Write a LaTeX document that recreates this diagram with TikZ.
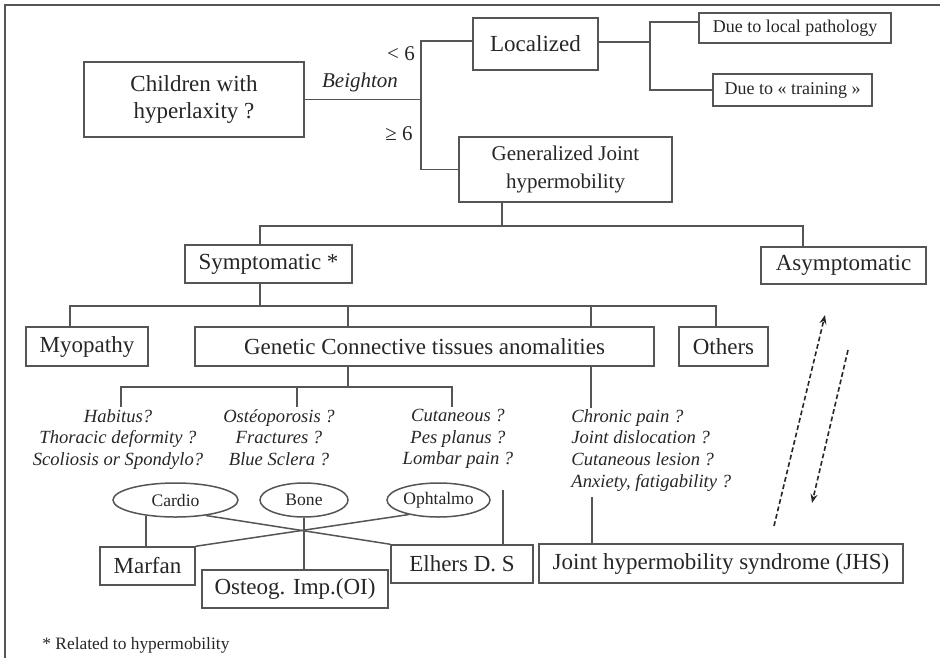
\documentclass[tikz,border=0pt]{standalone}
\usepackage{fontspec}
\setmainfont{Liberation Serif}
\usepackage{xcolor}
\usetikzlibrary{shapes.geometric,arrows.meta}
\definecolor{linec}{HTML}{555555}
\definecolor{textc}{HTML}{262626}

\begin{document}
\begin{tikzpicture}[x=0.5pt, y=-0.5pt,
    box/.style={draw=linec, line width=0.75pt, rectangle, inner sep=0pt, align=center, text=textc, font=\fontsize{11.5}{13.5}\selectfont},
    smallbox/.style={box, font=\fontsize{9}{11}\selectfont},
    oval/.style={draw=linec, line width=0.75pt, ellipse, inner sep=0pt, text=textc, font=\fontsize{8.8}{10}\selectfont},
    note/.style={inner sep=1pt, align=center, text=textc, font=\fontsize{9.3}{10.8}\selectfont\itshape},
    label/.style={inner sep=1pt, text=textc, font=\fontsize{10.5}{12}\selectfont},
    link/.style={draw=linec, line width=0.75pt},
    dasharrow/.style={draw=textc, line width=0.8pt, dash pattern=on 2.4pt off 1.4pt, -{Stealth[length=4.5pt,width=3.5pt]}}]
    \useasboundingbox (0,0) rectangle (940,658);
    \draw[draw=linec, line width=0.8pt] (940,5) -- (5,5) -- (5,658);

    \node[box, minimum width=110pt, minimum height=37.5pt] (child) at (194,99.5) {Children with\\hyperlaxity ?};
    \node[box, minimum width=62.5pt, minimum height=26pt] (loc) at (535.5,44) {Localized};
    \node[box, minimum width=106.5pt, minimum height=32.5pt, font=\fontsize{10.5}{14}\selectfont] (gen) at (565.5,169.5) {Generalized Joint\\hypermobility};
    \node[smallbox, minimum width=96pt, minimum height=15pt] (due1) at (795,28) {Due to local pathology};
    \node[smallbox, minimum width=79.5pt, minimum height=16pt] (due2) at (792.5,90) {Due to « training »};

    \node[label] (lt) at (401,54) {< 6};
    \node[label, font=\fontsize{10.5}{12}\selectfont\itshape] (beigh) at (360,82) {Beighton};
    \node[label] (ge) at (399,134) {≥ 6};

    \node[box, minimum width=83.5pt, minimum height=19pt] (sym) at (268.5,264) {Symptomatic *};
    \node[box, minimum width=82.5pt, minimum height=18.5pt] (asym) at (843.5,265.5) {Asymptomatic};
    \node[box, minimum width=61pt, minimum height=19.5pt] (myo) at (87,346.5) {Myopathy};
    \node[box, minimum width=229.5pt, minimum height=19.5pt] (gct) at (424.5,346.5) {Genetic Connective tissues anomalities};
    \node[box, minimum width=44.5pt, minimum height=19.5pt] (oth) at (723.5,346.5) {Others};

    \node[note, anchor=north] (hab) at (118,407) {Habitus?\\Thoracic deformity ?\\Scoliosis or Spondylo?};
    \node[note, anchor=north] (ost) at (279,407) {Ostéoporosis ?\\Fractures ?\\Blue Sclera ?};
    \node[note, anchor=north] (cut) at (458,407) {Cutaneous ?\\Pes planus ?\\Lombar pain ?};
    \node[note, anchor=north west, align=left] (chr) at (569,407) {Chronic pain ?\\Joint dislocation ?\\Cutaneous lesion ?\\Anxiety, fatigability ?};

    \node[oval, minimum width=62.5pt, minimum height=17pt] (cardio) at (175.5,500) {Cardio};
    \node[oval, minimum width=44pt, minimum height=17pt] (bone) at (304,500) {Bone};
    \node[oval, minimum width=51.5pt, minimum height=17pt] (ophta) at (438.5,500) {Ophtalmo};

    \node[box, minimum width=47.5pt, minimum height=19pt] (marfan) at (147.5,566) {Marfan};
    \node[box, minimum width=93pt, minimum height=19pt] (oi) at (295,589) {Osteog. Imp.(OI)};
    \node[box, minimum width=71pt, minimum height=19pt] (eds) at (462,564) {Elhers D. S};
    \node[box, minimum width=182pt, minimum height=19.5pt] (jhs) at (721,563.5) {Joint hypermobility syndrome (JHS)};

    \node[label, anchor=west, font=\fontsize{8.7}{10}\selectfont] (foot) at (40,645) {* Related to hypermobility};

    \coordinate (split) at (421,99.5);
    \draw[link] (child.east) -- (split);
    \draw[link] (split) |- ([yshift=1.5pt]loc.west);
    \draw[link] (split) |- (gen.west);
    \coordinate (lsplit) at (650,42);
    \draw[link] (loc.east |- lsplit) -- (lsplit);
    \draw[link] (lsplit) |- ([yshift=3pt]due1.west);
    \draw[link] (lsplit) |- (due2.west);

    \draw[link] ([xshift=-31.75pt]gen.south) -- ++(0,23) coordinate (gbus);
    \draw[link] (gbus) -| ([xshift=-4.25pt]sym.north);
    \draw[link] (gbus) -| ([xshift=-20.25pt]asym.north);

    \draw[link] ([xshift=-4.25pt]sym.south) -- ++(0,22) coordinate (sbus);
    \draw[link] (sbus) -| ([xshift=-8.5pt]myo.north);
    \draw[link] (sbus) -| ([xshift=-38.25pt]gct.north);
    \draw[link] (sbus) -| ([xshift=83.25pt]gct.north);
    \draw[link] (sbus) -| ([xshift=-3.75pt]oth.north);

    \draw[link] ([xshift=-38.25pt]gct.south) -- ++(0,20) coordinate (cbus);
    \draw[link] (cbus) -| ([xshift=1.5pt]hab.north);
    \draw[link] (cbus) -| ([xshift=9pt]ost.north);
    \draw[link] (cbus) -| ([xshift=-3pt]cut.north);
    \draw[link] ([xshift=83.25pt]gct.south) -- ++(0,41);

    \draw[link] (cardio.208) -- (cardio.208 |- marfan.north);
    \draw[link] (bone.south) -- (bone.south |- oi.north);
    \draw[link] (cardio.333) -- (eds.north west);
    \draw[link] (ophta.206) -- (marfan.north east);
    \coordinate (lomb) at (503,490);
    \draw[link] (lomb) -- (lomb |- eds.north);
    \coordinate (anx) at (592,497);
    \draw[link] (anx) -- (anx |- jhs.north);

    \coordinate (up0) at (774,526);
    \coordinate (up1) at (825,315);
    \coordinate (dn0) at (848,350);
    \coordinate (dn1) at (812,503);
    \draw[dasharrow] (up0) -- (up1);
    \draw[dasharrow] (dn0) -- (dn1);
\end{tikzpicture}
\end{document}
